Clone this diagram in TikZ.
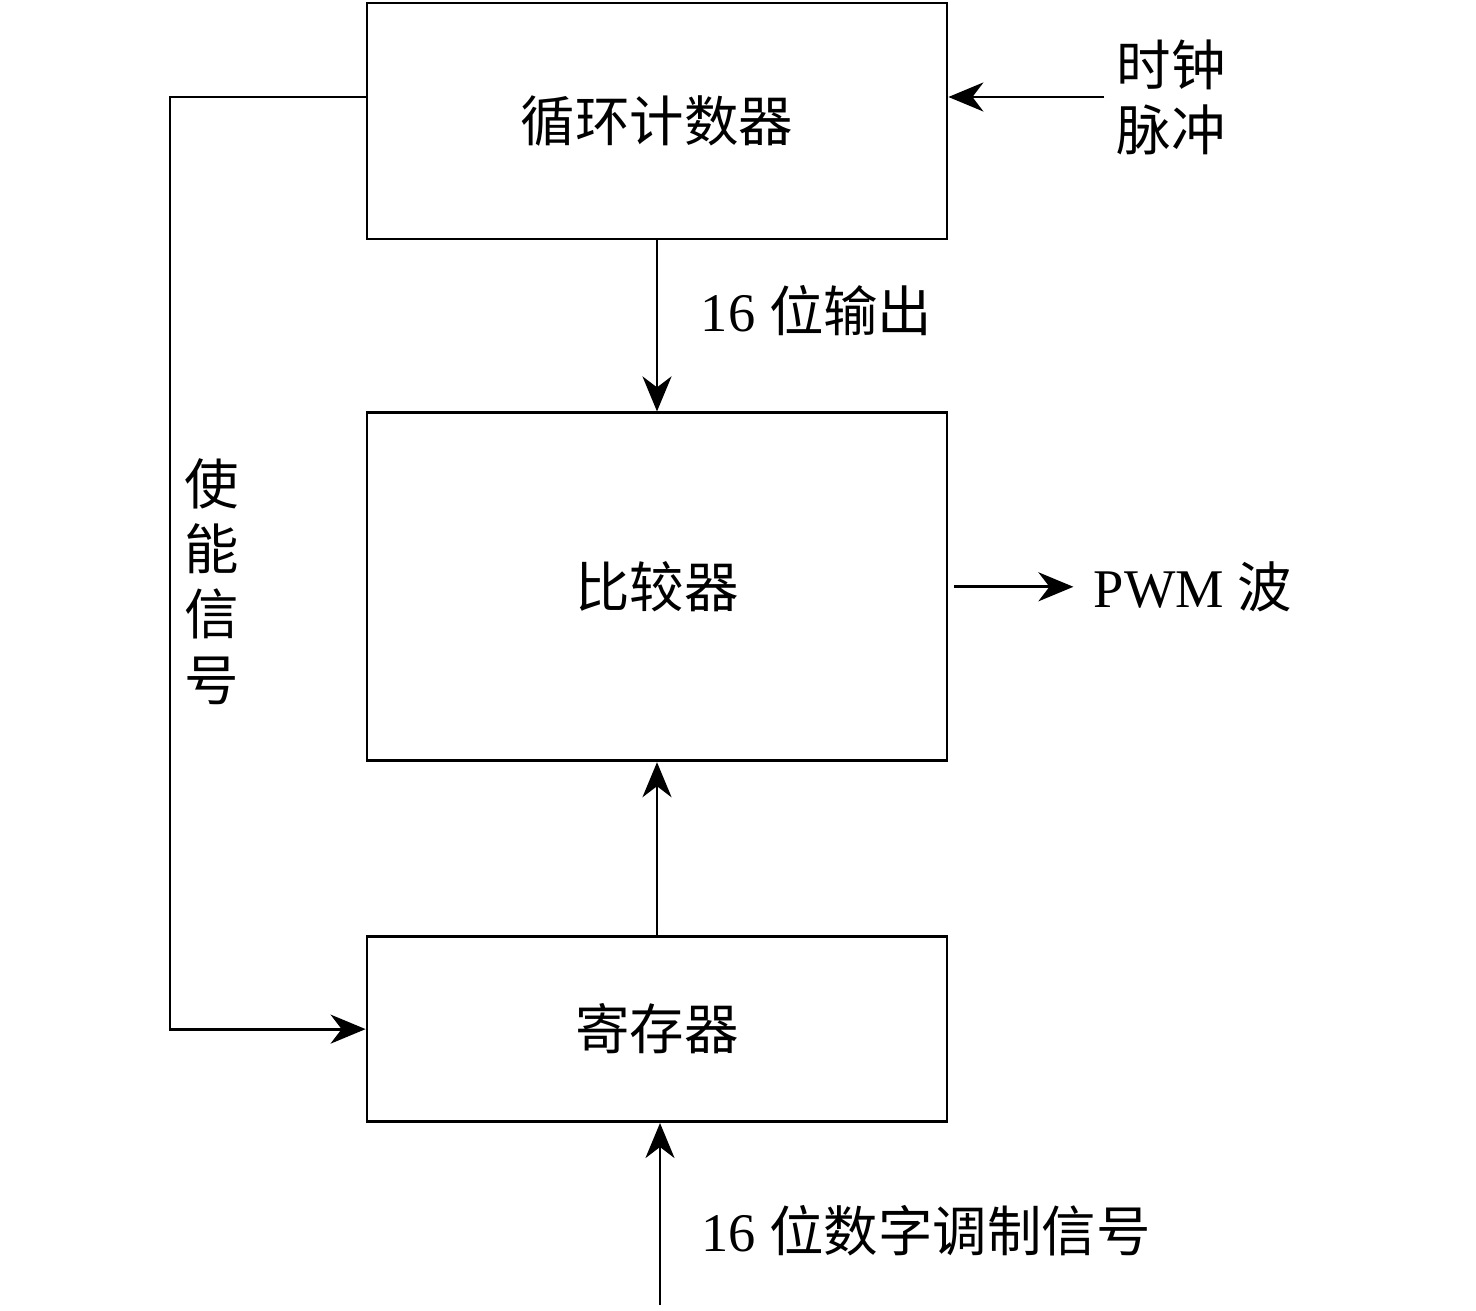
\documentclass[tikz,border=0pt]{standalone}
\usepackage{fontspec}
\setmainfont{Liberation Serif}
\newfontfamily\cjk{Noto Sans CJK SC}
\usetikzlibrary{arrows.meta,positioning}
\newcommand{\zh}[1]{{\cjk #1}}
\tikzset{
  block/.style={rectangle, draw=black, line width=1.6pt, minimum width=11.6cm, align=center, font=\fontsize{31}{37}\selectfont},
  lbl/.style={inner sep=2pt, align=left, font=\fontsize{31}{37}\selectfont},
  flow/.style={line width=1.6pt, -{Stealth[length=7mm, width=5.8mm, inset=2.2mm]}},
}
\begin{document}
\begin{tikzpicture}
  \useasboundingbox (0,0) rectangle (29.52,-26.22);
  \node[block, minimum height=4.72cm] (cnt) at (13.14,-2.42) {\zh{循环计数器}};
  \node[block, minimum height=6.96cm, below=3.42cm of cnt] (cmp) {\zh{比较器}};
  \node[block, minimum height=3.7cm, below=3.46cm of cmp] (reg) {\zh{寄存器}};
  % inputs and outputs
  \node[lbl, inner sep=0.24cm, right=3.12cm of cnt.east, yshift=0.48cm] (clk) {\zh{时钟}\\\zh{脉冲}};
  \node[lbl, inner sep=0.4cm, right=2.5cm of cmp] (pwm) {PWM \zh{波}};
  \coordinate (en) at (3.4,-1.94);
  \coordinate (in) at (13.2,-26.1);
  \draw[flow] (clk.west) -- (clk.west -| cnt.east);
  \draw[flow] (cnt) -- node[lbl, midway, right=0.78cm, yshift=0.3cm] {16 \zh{位输出}} (cmp);
  \draw[flow, shorten <=0.12cm] (cmp) -- (pwm);
  \draw[flow] (reg) -- (cmp);
  \draw[flow] (cnt.west |- en) -- (en) |- node[lbl, pos=0.26, right=0.19cm, align=center] {\zh{使}\\\zh{能}\\\zh{信}\\\zh{号}} (reg.west);
  \draw[flow] (in) -- node[lbl, pos=0.41, right=0.73cm] {16 \zh{位数字调制信号}} (in |- reg.south);
\end{tikzpicture}
\end{document}
